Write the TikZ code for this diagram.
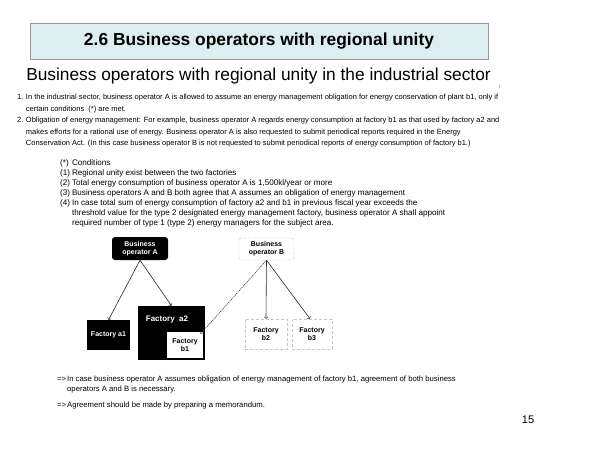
\documentclass[tikz,border=0pt]{standalone}
\usepackage{fontspec}
\setmainfont{Liberation Sans}
\usetikzlibrary{positioning}
\definecolor{titlefill}{HTML}{DDEEF0}
\tikzset{
  blackbox/.style={fill=black, text=white, font=\fontsize{7}{8}\selectfont\bfseries, align=center, inner sep=1pt},
  ghostbox/.style={draw=gray!45, densely dashed, fill=white, font=\fontsize{7}{8}\selectfont\bfseries, align=center, inner sep=1pt},
  small/.style={font=\fontsize{7.5}{11.5}\selectfont, inner sep=0pt, anchor=north west},
  link/.style={->, line width=0.6pt, black!85}
}
\begin{document}
\begin{tikzpicture}[x=1pt, y=-1pt]
\useasboundingbox (0,0) rectangle (600,450);

% title
\node[draw=gray!80, fill=titlefill, minimum width=458pt, minimum height=36pt,
      font=\fontsize{17.4}{20}\selectfont\bfseries] (title) at (259,41.5)
  {2.6 Business operators with regional unity};
\node[font=\fontsize{17.3}{20}\selectfont, inner sep=0pt] (subtitle) at (258.5,76)
  {Business operators with regional unity in the industrial sector};
\node[font=\fontsize{4}{5}\selectfont, inner sep=0pt] (mark) at (500,87) {!};

% numbered items
\node[small] (items) at (17,91.5) {%
  \begin{tabular}{@{}l@{\hspace{2.5pt}}l@{}}
  1. & In the industrial sector, business operator A is allowed to assume an energy management obligation for energy conservation of plant b1, only if\\
     & certain conditions\ \ (*) are met.\\
  2. & Obligation of energy management: For example, business operator A regards energy consumption at factory b1 as that used by factory a2 and\\
     & makes efforts for a rational use of energy. Business operator A is also requested to submit periodical reports required in the Energy\\
     & Conservation Act. (In this case business operator B is not requested to submit periodical reports of energy consumption of factory b1.)
  \end{tabular}};

% conditions
\node[small, font=\fontsize{8.1}{10}\selectfont] (conds) at (60,158.5) {%
  \begin{tabular}{@{}l@{\hspace{2pt}}l@{}}
  (*) & Conditions\\
  (1) & Regional unity exist between the two factories\\
  (2) & Total energy consumption of business operator A is 1,500kl/year or more\\
  (3) & Business operators A and B both agree that A assumes an obligation of energy management\\
  (4) & In\ case total sum of energy consumption of factory a2 and b1 in previous fiscal year exceeds the\\
      & threshold value for the type 2 designated energy management factory, business operator A shall appoint\\
      & required number of type 1 (type 2) energy managers for the subject area.
  \end{tabular}};

% diagram
\node[blackbox, rounded corners=3pt, minimum width=56pt, minimum height=23pt] (A) at (140,248.5) {Business\\operator A};
\node[ghostbox, rounded corners=3pt, minimum width=55pt, minimum height=22pt] (B) at (266.5,249) {Business\\operator B};
\node[blackbox, minimum width=43pt, minimum height=30pt] (a1) at (108.5,335) {Factory a1};
\node[fill=black, minimum width=67pt, minimum height=54pt, inner sep=0pt] (a2) at (171.5,333) {};
\node[text=white, font=\fontsize{8}{9}\selectfont\bfseries, inner sep=0pt] (a2label) at (167,320) {Factory\ \ a2};
\node[fill=white, minimum width=36pt, minimum height=26pt, font=\fontsize{7}{8}\selectfont\bfseries, align=center, inner sep=0pt] (b1) at (185,345) {Factory\\b1};
\coordinate (b1corner) at (200.5,334);
\node[ghostbox, minimum width=42pt, minimum height=30pt] (b2) at (266,334) {Factory\\b2};
\node[ghostbox, minimum width=40pt, minimum height=30pt] (b3) at (312,334) {Factory\\b3};

\draw[link] (A.south) -- (a1.north);
\draw[link] (A.south) -- (a2.north);
\draw[link] (B.south) -- (b2.north);
\draw[link] (B.south) -- (b3.north -| 310,0);
\draw[link, black!75, dash pattern=on 1.2pt off 0.8pt, line width=0.6pt] (B.south) -- (b1corner);

% conclusions
\node[small, font=\fontsize{7.7}{10}\selectfont] (notes) at (57,374) {%
  \begin{tabular}{@{}l@{\hspace{1pt}}l@{}}
  =\textgreater & In case business operator A assumes obligation of energy management of factory b1, agreement of both business\\
                & operators A and B is necessary.\\[6pt]
  =\textgreater & Agreement should be made by preparing a memorandum.
  \end{tabular}};

\node[font=\fontsize{11}{12}\selectfont, inner sep=0pt] (page) at (528,420) {15};
\end{tikzpicture}
\end{document}
